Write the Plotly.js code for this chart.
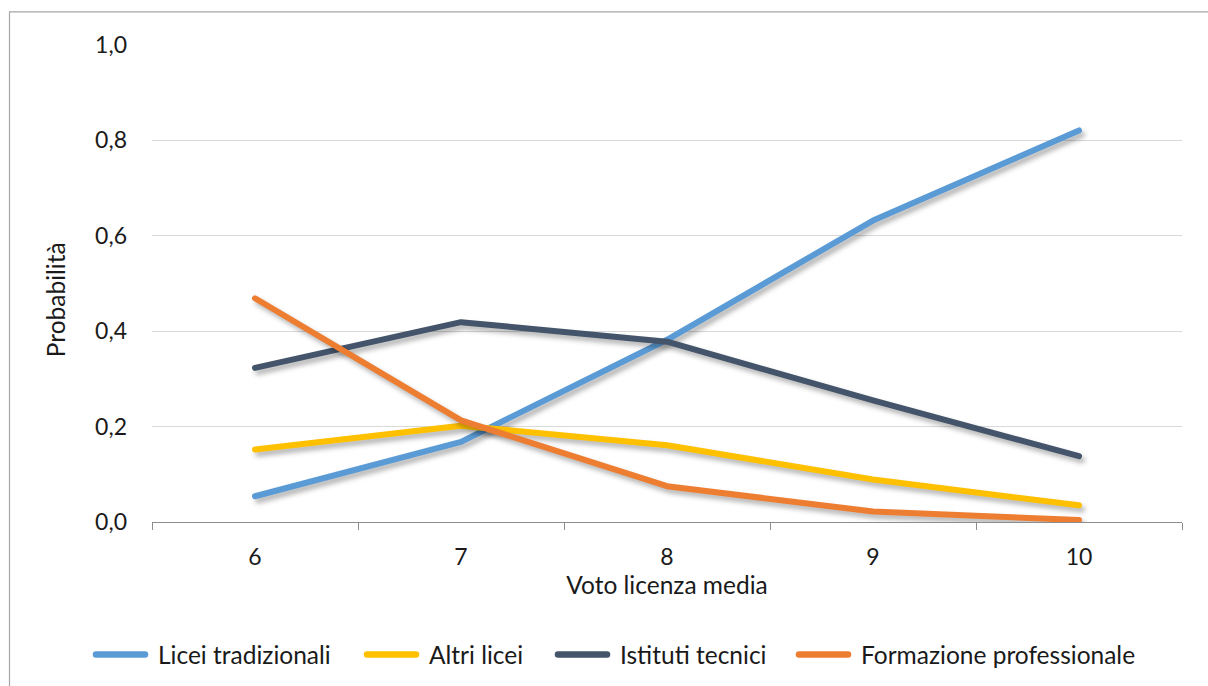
<!DOCTYPE html>
<html>
<head>
<meta charset="utf-8">
<script src="https://cdn.plot.ly/plotly-3.0.1.min.js"></script>
<style>
  html, body { margin: 0; padding: 0; background: #fff; }
  #chart { width: 1208px; height: 686px; }
  /* soft drop shadow and rounded ends on the series lines */
  #chart .scatterlayer .trace path.js-line {
    filter: drop-shadow(3px 4px 2.5px rgba(0,0,0,0.30));
    stroke-linecap: round;
    stroke-linejoin: round;
  }
  #chart .layer-above .shapelayer path { stroke-linecap: round; }
</style>
</head>
<body>
<div id="chart"></div>
<script>
// Voto di licenza media (categorie asse x)
const voti = ['6', '7', '8', '9', '10'];

// Probabilità stimate per tipo di scuola superiore
const liceiTradizionali = [0.054, 0.168, 0.382, 0.632, 0.821];
const altriLicei = [0.152, 0.202, 0.161, 0.089, 0.035];
const istitutiTecnici = [0.323, 0.419, 0.378, 0.255, 0.138];
const formazioneProfessionale = [0.469, 0.213, 0.075, 0.022, 0.004];

const nomiSerie = ['Licei tradizionali', 'Altri licei', 'Istituti tecnici', 'Formazione professionale'];
const valoriSerie = [liceiTradizionali, altriLicei, istitutiTecnici, formazioneProfessionale];
const colori = ['#5B9BD5', '#FFC000', '#44546A', '#ED7D31'];

const yTicks = [0, 0.2, 0.4, 0.6, 0.8, 1.0];

const FONT = 'Lato, "Open Sans", sans-serif';
const TEXT = '#1a1a1a';

// plot area in pixels, used to place the frame, the y title and the legend row
const W = 1208, H = 686;
const M = { l: 152, r: 26, t: 45, b: 164.4 };
const PW = W - M.l - M.r, PH = H - M.t - M.b;
const px = v => (v - M.l) / PW;          // page x -> paper x
const py = v => (H - M.b - v) / PH;      // page y -> paper y

const traces = nomiSerie.map((nome, i) => ({
  type: 'scatter',
  mode: 'lines',
  name: nome,
  x: voti,
  y: valoriSerie[i],
  line: { color: colori[i], width: 6 },
  hoverinfo: 'x+y+name'
}));

// legend row: a short line sample followed by the series name
const legendStart = [93, 364, 555, 796];
const legendY = 654;
const legendShapes = nomiSerie.map((nome, i) => ({
  type: 'line', xref: 'paper', yref: 'paper', layer: 'above',
  x0: px(legendStart[i] + 3), x1: px(legendStart[i] + 52),
  y0: py(legendY), y1: py(legendY),
  line: { color: colori[i], width: 6.5 }
}));
const legendLabels = nomiSerie.map((nome, i) => ({
  xref: 'paper', yref: 'paper',
  x: px(legendStart[i] + 63), y: py(legendY),
  xanchor: 'left', yanchor: 'middle',
  text: nome, showarrow: false,
  font: { family: FONT, size: 24.5, color: TEXT }
}));

// vertical axis title
const yTitle = {
  xref: 'paper', yref: 'paper',
  x: px(55), y: py(300),
  xanchor: 'center', yanchor: 'middle',
  textangle: -90,
  text: 'Probabilità', showarrow: false,
  font: { family: FONT, size: 24.5, color: TEXT }
};

const layout = {
  width: W,
  height: H,
  paper_bgcolor: '#ffffff',
  plot_bgcolor: '#ffffff',
  separators: ',.',
  font: { family: FONT, size: 23, color: TEXT },
  margin: M,
  showlegend: false,
  xaxis: {
    type: 'category',
    range: [-0.5, 4.5],
    tickson: 'boundaries',
    ticks: 'outside',
    ticklen: 7,
    tickcolor: '#8C8C8C',
    tickwidth: 1,
    showline: true,
    linecolor: '#8C8C8C',
    linewidth: 1,
    showgrid: false,
    zeroline: false,
    ticklabelstandoff: 14,
    tickfont: { family: FONT, size: 23, color: TEXT },
    title: { text: 'Voto licenza media', font: { family: FONT, size: 24.5, color: TEXT }, standoff: 4 },
    fixedrange: true
  },
  yaxis: {
    range: [0, 1.0],
    tickvals: yTicks,
    tickformat: '.1f',
    showgrid: true,
    gridcolor: '#D9D9D9',
    gridwidth: 1,
    zeroline: false,
    showline: false,
    ticks: '',
    ticklabelstandoff: 24,
    tickfont: { family: FONT, size: 23, color: TEXT },
    fixedrange: true
  },
  shapes: [
    // chart frame, running past the right and bottom edges of the page
    {
      type: 'rect', xref: 'paper', yref: 'paper', layer: 'below',
      x0: px(9.5), x1: px(1300), y0: py(800), y1: py(12),
      line: { color: '#A6A6A6', width: 1.2 }, fillcolor: 'rgba(0,0,0,0)'
    }
  ].concat(legendShapes),
  annotations: [yTitle].concat(legendLabels)
};

Plotly.newPlot('chart', traces, layout, { displayModeBar: false });
</script>
</body>
</html>
